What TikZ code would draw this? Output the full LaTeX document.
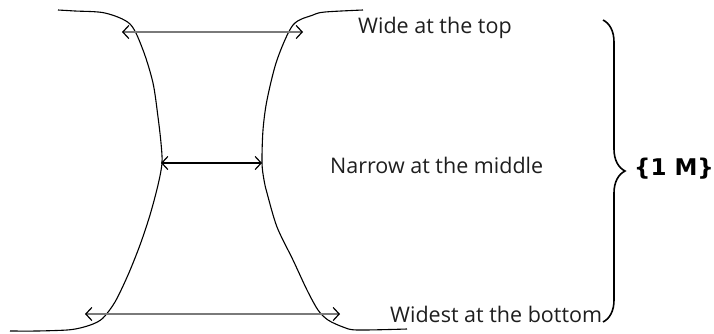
\documentclass[tikz,border=0pt]{standalone}
\usepackage{fontspec}
\setmainfont{Open Sans}
\newfontfamily\markfont{DejaVu Sans}
\usepackage{tikz}
\usetikzlibrary{arrows.meta,decorations.pathreplacing}
\definecolor{Shaft}{HTML}{7A7A7A}
\definecolor{Ink}{HTML}{1E1E1E}

\begin{document}
\begin{tikzpicture}[x=1pt,y=-1pt,
  wall/.style={line width=1.1pt,smooth},
  span/.style={line width=1.2pt,{Straight Barb[length=6pt,width=13pt,color=black]}-{Straight Barb[length=6pt,width=13pt,color=black]}},
  lbl/.style={font=\fontsize{21.5}{25}\selectfont,text=Ink,anchor=base west,inner sep=0pt}]
  \useasboundingbox (0,0) rectangle (714,333);
  % the two side walls
  \draw[wall] plot coordinates {(58,10)(75,11)(105,13)(130,24)(143,50)(153,83)(158,117)(161,143)(162,163)(158,185)(150,215)(140,245)(128,275)(115,302)(103,318)(93,324)(80,328)(67,330)(37,331)(10,331)};
  \draw[wall] plot coordinates {(363,10)(325,12)(313,15)(293,25)(277,60)(267,100)(263,130)(262,163)(264,180)(267,193)(277,227)(293,260)(307,290)(318,310)(328,320)(343,327)(357,330)(407,329)};
  \coordinate (tl) at (122,32); \coordinate (tr) at (303,32);
  \coordinate (ml) at (161,163); \coordinate (mr) at (262,163);
  \coordinate (bl) at (85,314); \coordinate (br) at (340,314);
  \draw[span,Shaft] (tl) -- (tr);
  \draw[span] (ml) -- (mr);
  \draw[span,Shaft] (bl) -- (br);
  \node[lbl] (top) at (358,33) {Wide at the top};
  \node[lbl] (mid) at (330,173) {Narrow at the middle};
  \node[lbl] (bot) at (390,322) {Widest at the bottom};
  \coordinate (bt) at (603,20); \coordinate (bb) at (603,322);
  \draw[line width=1.6pt,decorate,decoration={brace,amplitude=22pt}] (bt) -- (bb);
  \node[lbl,font=\markfont\bfseries\fontsize{23}{27}\selectfont,text=black] (mark) at (634,175) {\{1 M\}};
\end{tikzpicture}
\end{document}
